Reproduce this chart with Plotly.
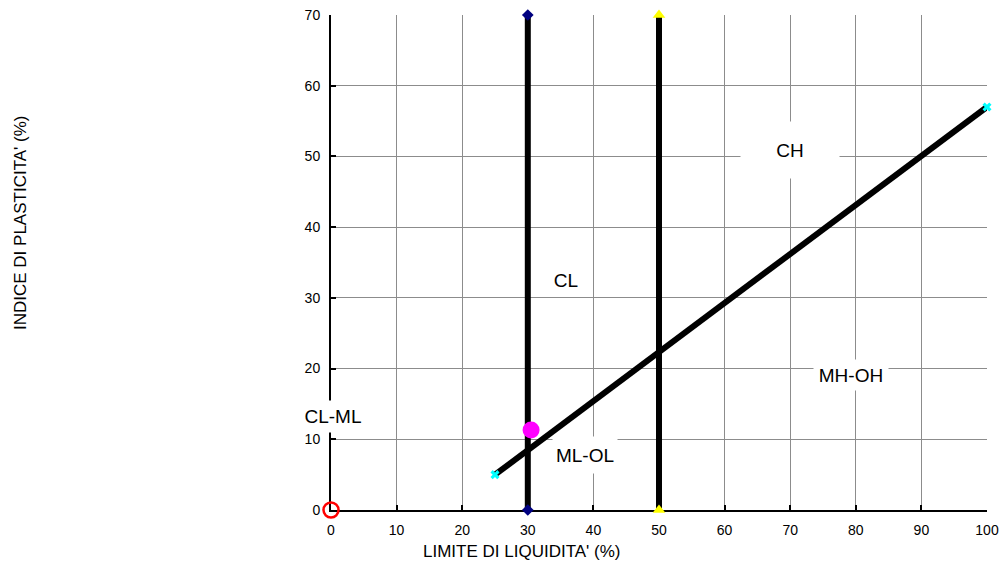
import plotly.graph_objects as go

# ---- data ----
a_line_x = [25, 100]
a_line_y = [5, 57]
ll30_x = [30, 30]
ll30_y = [0, 70]
ll50_x = [50, 50]
ll50_y = [0, 70]
sample_x = [30.5]
sample_y = [11.3]
origin_x = [0]
origin_y = [0]

zone_names = ["CH", "CL", "CL-ML", "ML-OL", "MH-OH"]
zone_x = [70, 35.8, 0.3, 38.7, 79.3]
zone_y = [50.9, 32.5, 13.2, 7.8, 19.1]
zone_w = [98, 40, 70, 64, 74]
zone_h = [56, 26, 31, 36, 30]

x_ticks = list(range(0, 101, 10))
y_ticks = list(range(0, 71, 10))

FONT = "Liberation Sans, Arial, sans-serif"

fig = go.Figure()

fig.add_trace(go.Scatter(x=ll30_x, y=ll30_y, mode="lines+markers",
                         line=dict(color="black", width=6),
                         marker=dict(symbol="diamond", size=9, color="#000080"),
                         cliponaxis=False, showlegend=False))
fig.add_trace(go.Scatter(x=ll50_x, y=ll50_y, mode="lines+markers",
                         line=dict(color="black", width=6),
                         marker=dict(symbol="triangle-up", size=11, color="#FFFF00"),
                         cliponaxis=False, showlegend=False))
fig.add_trace(go.Scatter(x=a_line_x, y=a_line_y, mode="lines+markers",
                         line=dict(color="black", width=6),
                         marker=dict(symbol="x", size=8, color="#00FFFF"),
                         cliponaxis=False, showlegend=False))
fig.add_trace(go.Scatter(x=sample_x, y=sample_y, mode="markers",
                         marker=dict(symbol="circle", size=17, color="#FF00FF"),
                         cliponaxis=False, showlegend=False))
fig.add_trace(go.Scatter(x=origin_x, y=origin_y, mode="markers",
                         marker=dict(symbol="circle-open", size=15, color="#FF0000",
                                     line=dict(width=2.5)),
                         cliponaxis=False, showlegend=False))

for name, x, y, w, h in zip(zone_names, zone_x, zone_y, zone_w, zone_h):
    fig.add_annotation(x=x, y=y, xref="x", yref="y", text=name, showarrow=False,
                       xanchor="center", yanchor="middle",
                       font=dict(family=FONT, size=19, color="black"),
                       bgcolor="white", width=w, height=h, borderpad=0)

fig.add_annotation(x=(522 - 331) / 656, y=(510 - 551) / 495, xref="paper", yref="paper",
                   xanchor="center", yanchor="middle",
                   text="LIMITE DI LIQUIDITA' (%)", showarrow=False,
                   font=dict(family=FONT, size=17, color="black"))
fig.add_annotation(x=(20 - 331) / 656, y=(510 - 223) / 495, xref="paper", yref="paper",
                   xanchor="center", yanchor="middle",
                   text="INDICE DI PLASTICITA' (%)", showarrow=False, textangle=-90,
                   font=dict(family=FONT, size=17, color="black"))

fig.update_xaxes(range=[0, 100], tickvals=x_ticks, ticks="inside", ticklen=5,
                 tickcolor="black", tickwidth=1.5, showline=True, linecolor="black",
                 linewidth=2, showgrid=True, gridcolor="#8c8c8c", gridwidth=1,
                 zeroline=False, automargin=False, ticklabelstandoff=6,
                 layer="below traces",
                 tickfont=dict(family=FONT, size=14, color="black"))
fig.update_yaxes(range=[0, 70], tickvals=y_ticks, ticks="inside", ticklen=5,
                 tickcolor="black", tickwidth=1.5, showline=True, linecolor="black",
                 linewidth=2, showgrid=True, gridcolor="#8c8c8c", gridwidth=1,
                 zeroline=False, automargin=False, ticklabelstandoff=6,
                 layer="below traces",
                 tickfont=dict(family=FONT, size=14, color="black"))

fig.update_layout(width=1000, height=562, autosize=False,
                  margin=dict(l=331, r=13, t=15, b=52),
                  plot_bgcolor="white", paper_bgcolor="white",
                  font=dict(family=FONT))

fig.write_html("out.html", config={"displayModeBar": False},
               post_script="document.body.style.margin='0';document.body.style.padding='0';"
                           "document.documentElement.style.overflow='hidden';")
